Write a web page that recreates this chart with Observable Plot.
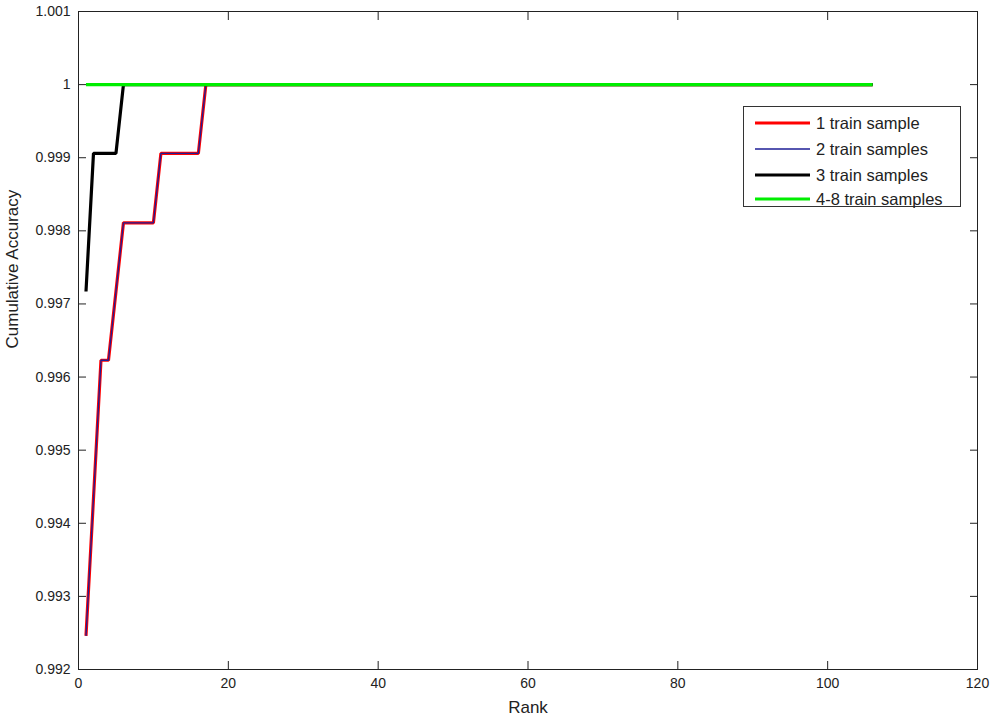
<!DOCTYPE html>
<html>
<head>
<meta charset="utf-8">
<script src="https://cdn.jsdelivr.net/npm/d3@7"></script>
<script src="https://cdn.jsdelivr.net/npm/@observablehq/plot@0.6"></script>
<style>
  html, body { margin: 0; padding: 0; background: #fff; }
  #chart svg { display: block; }
</style>
</head>
<body>
<div id="chart"></div>
<script>
// ---- Data ----
const ranks = [1, 2, 3, 4, 5, 6, 7, 8, 9, 10, 11, 12, 13, 14, 15, 16, 17, 106];
const acc1 = [0.99246, 0.99434, 0.99623, 0.99623, 0.99717, 0.99811, 0.99811, 0.99811, 0.99811, 0.99811, 0.99906, 0.99906, 0.99906, 0.99906, 0.99906, 0.99906, 1, 1];
const acc2 = [0.99246, 0.99434, 0.99623, 0.99623, 0.99717, 0.99811, 0.99811, 0.99811, 0.99811, 0.99811, 0.99906, 0.99906, 0.99906, 0.99906, 0.99906, 0.99906, 1, 1];
const acc3 = [0.99717, 0.99906, 0.99906, 0.99906, 0.99906, 1, 1, 1, 1, 1, 1, 1, 1, 1, 1, 1, 1, 1];
const acc4 = [1, 1, 1, 1, 1, 1, 1, 1, 1, 1, 1, 1, 1, 1, 1, 1, 1, 1];

const seriesNames = ["1 train sample", "2 train samples", "3 train samples", "4-8 train samples"];
const seriesValues = [acc1, acc2, acc3, acc4];
const seriesColors = ["#ff0000", "#1e1e96", "#000000", "#00ee00"];
const seriesWidths = [3.2, 1.3, 3.2, 3.2];

const xTicks = [0, 20, 40, 60, 80, 100, 120];
const yTicks = [0.992, 0.993, 0.994, 0.995, 0.996, 0.997, 0.998, 0.999, 1, 1.001];
const yTickLabels = ["0.992", "0.993", "0.994", "0.995", "0.996", "0.997", "0.998", "0.999", "1", "1.001"];

const xLabel = "Rank";
const yLabel = "Cumulative Accuracy";

// ---- Build rows ----
const rows = [];
seriesValues.forEach((vals, i) => {
  ranks.forEach((r, j) => rows.push({ series: seriesNames[i], rank: r, acc: vals[j] }));
});

const font = "'Liberation Sans', Arial, Helvetica, sans-serif";
const W = 1000, H = 724;
const mL = 78, mR = 23, mT = 11, mB = 55;

const lineMarks = seriesNames.map((name, i) =>
  Plot.line(rows.filter(d => d.series === name), {
    x: "rank", y: "acc",
    stroke: seriesColors[i], strokeWidth: seriesWidths[i],
    strokeLinejoin: "miter", strokeLinecap: "butt"
  })
);

const yFmt = d => yTickLabels[yTicks.indexOf(d)];

const chart = Plot.plot({
  width: W, height: H,
  marginLeft: mL, marginRight: mR, marginTop: mT, marginBottom: mB,
  style: { fontFamily: font, fontSize: "14px", color: "#222", background: "#fff", overflow: "visible" },
  x: { domain: [0, 120] },
  y: { domain: [0.992, 1.001] },
  marks: [
    ...lineMarks,
    Plot.frame({ stroke: "#222", strokeWidth: 1 }),
    // inward ticks, labelled bottom & left
    Plot.axisX(xTicks, { anchor: "bottom", tickSize: -8, tickPadding: 17, label: null, tickFormat: d => String(d), fontSize: 14, stroke: "#222" }),
    Plot.axisX(xTicks, { anchor: "top", tickSize: -8, label: null, tickFormat: () => "", stroke: "#222" }),
    Plot.axisY(yTicks, { anchor: "left", tickSize: -8, tickPadding: 16, label: null, tickFormat: yFmt, fontSize: 14, stroke: "#222" }),
    Plot.axisY(yTicks, { anchor: "right", tickSize: -8, label: null, tickFormat: () => "", stroke: "#222" }),
    Plot.text([xLabel], { frameAnchor: "bottom", dy: 43, fontSize: 17, fill: "#222" }),
    Plot.text([yLabel], { frameAnchor: "left", dx: -66, dy: 8, rotate: -90, fontSize: 17, fill: "#222" })
  ]
});

document.getElementById("chart").appendChild(chart);

// ---- Legend inside plot area (top-right) ----
const svg = d3.select(chart);
const lg = svg.append("g").attr("class", "legend").attr("transform", "translate(743,106)");
lg.append("rect").attr("x", 0.5).attr("y", 0.5).attr("width", 217).attr("height", 100)
  .attr("fill", "#fff").attr("stroke", "#333").attr("stroke-width", 1);
const rowY = [17, 43, 69, 93];
seriesNames.forEach((name, i) => {
  lg.append("line")
    .attr("x1", 12).attr("x2", 67).attr("y1", rowY[i]).attr("y2", rowY[i])
    .attr("stroke", seriesColors[i]).attr("stroke-width", seriesWidths[i]);
  lg.append("text")
    .attr("x", 73).attr("y", rowY[i]).attr("dy", "0.35em")
    .attr("text-anchor", "start")
    .attr("font-family", font).attr("font-size", 16.5).attr("fill", "#222")
    .text(name);
});
</script>
</body>
</html>
